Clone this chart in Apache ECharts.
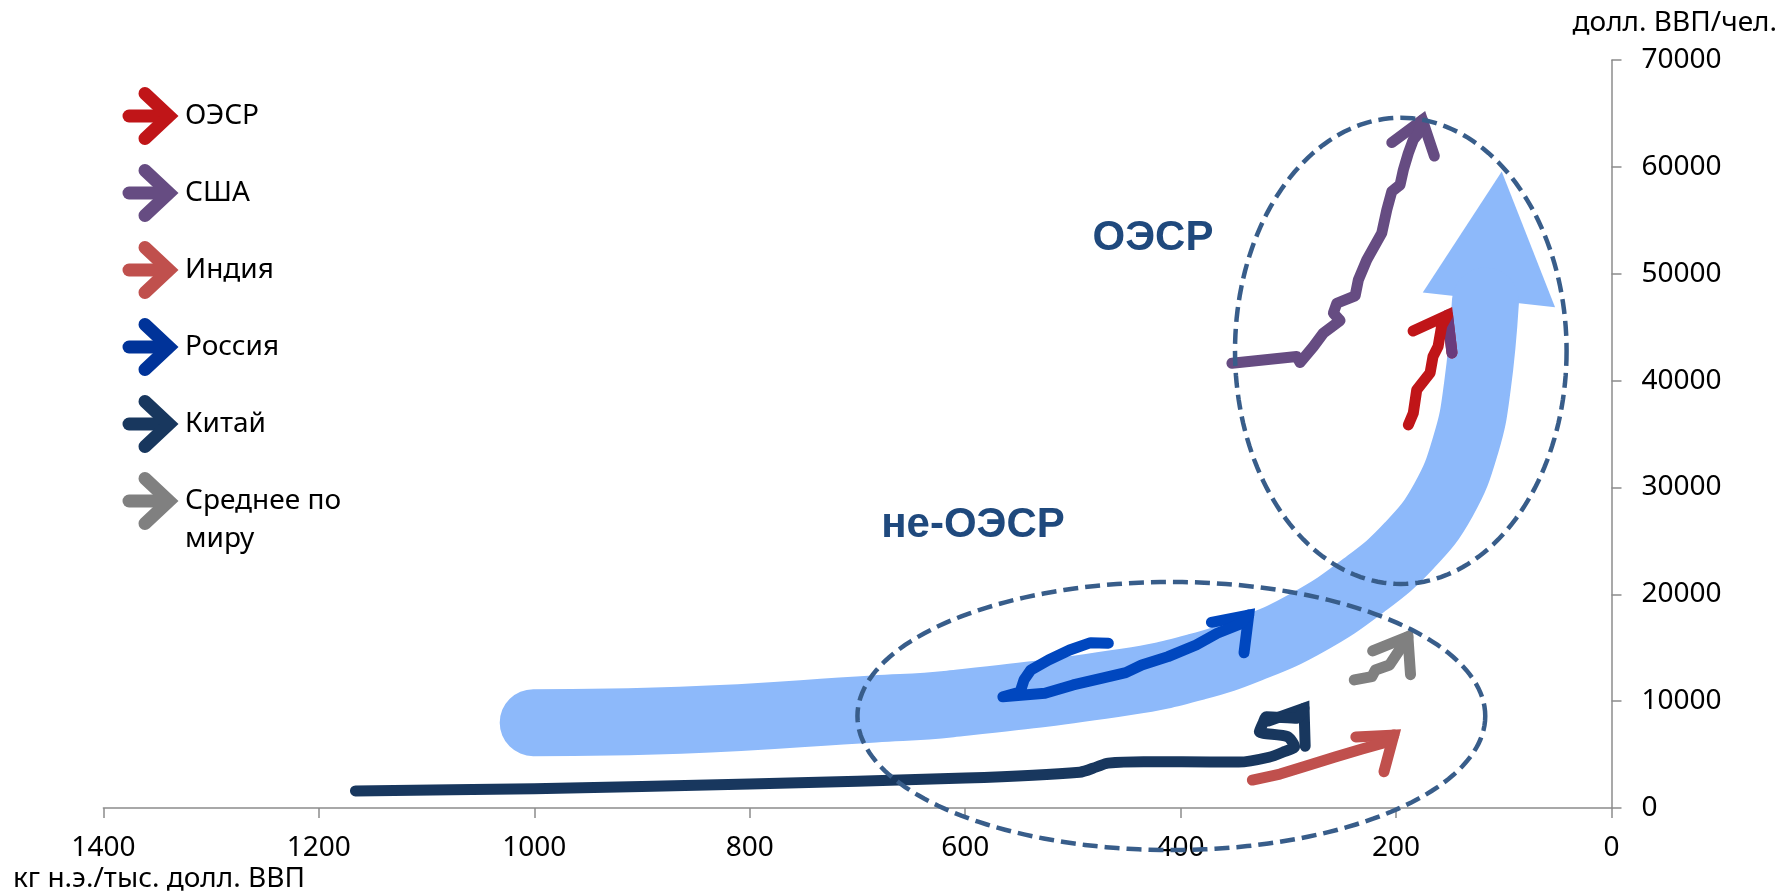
<!DOCTYPE html>
<html><head><meta charset="utf-8">
<script src="https://cdn.jsdelivr.net/npm/echarts@6/dist/echarts.min.js"></script>
<style>html,body{margin:0;padding:0;background:#fff}#c{width:1782px;height:892px}</style>
</head><body><div id="c"></div>
<script>
// ---- data (x: kg oil eq. per 1000 $ GDP, y: $ GDP per capita) ----
const seriesNames = ['ОЭСР', 'США', 'Индия', 'Россия', 'Китай', 'Среднее по миру'];
const legendLabels = ['ОЭСР', 'США', 'Индия', 'Россия', 'Китай', 'Среднее по\nмиру'];
const xAxisTitle = 'кг н.э./тыс. долл. ВВП';
const yAxisTitle = 'долл. ВВП/чел.';
const groupLabels = ['ОЭСР', 'не-ОЭСР'];

const oecd = [[188.6,35860],[184,36960],[180.8,39140],[168.4,40730],[165.7,42260],[161,43190],[157.6,45160],[152.2,46130]];
const usa = [[352.4,41640],[292.2,42260],[289.1,41700],[276.8,43190],[267.5,44450],[252,45630],[258.2,46320],[255,47250],[238,47940],[235,49440],[227.2,51310],[213.3,53810],[208.6,55990],[204,57700],[196.3,58330],[193.2,59740],[188.6,61300],[184,62550],[179.8,63060],[175.6,64400]];
const india = [[333.4,2620],[307.7,3180],[283.5,3930],[256.6,4780],[231.6,5520],[210.8,6120],[202.1,6830]];
const russia = [[467.1,15420],[483.5,15480],[503,14790],[522.6,13860],[539,12920],[545.4,11985],[549,10860],[565,10420],[525.9,10740],[499.8,11520],[473.7,12140],[450.9,12670],[436.1,13390],[411.7,14170],[385.6,15260],[366,16360],[344.4,17240],[336.8,18060]];
const china = [[1166,1600],[1000,1800],[800,2250],[600,2800],[493.7,3350],[477.9,3850],[467.3,4200],[434.5,4340],[398.8,4330],[346,4300],[318,4750],[304,5270],[294.2,5740],[300.8,6680],[326.9,7140],[323.6,7930],[320.4,8550],[291.7,8410],[285.4,9340]];
const world = [[238.8,11985],[222.5,12290],[219.2,12920],[206.1,13390],[194.9,15080],[189,16030]];

// big trend arrow (non-OECD -> OECD)
const trendBand = [[1001,7990],[864.5,8210],[684.5,9270],[613.9,9740],[450.6,11800],[385.6,13200],[335.3,14890],[282.6,17340],[229.9,20850],[187.7,24580],[156,28840],[134.9,34160],[124.5,39470],[117,47450]];
const trendHead = [[175.2,48250],[101.9,59580],[52.4,46880]];

// group ellipses: [centerX, centerY, radiusX, radiusY] in data units
const ellipseOECD = [195.6, 42790, 153.9, 21820];
const ellipseNonOECD = [408.6, 8610, 291.4, 12550];

const xMin = 0, xMax = 1400, xStep = 200;
const yMin = 0, yMax = 70000, yStep = 10000;

// ---- styles ----
const colors = ['#C01518', '#664C82', '#C0504D', '#0047BF', '#18375E', '#808080'];
const legendColors = ['#C01518', '#664C82', '#C0504D', '#003399', '#18375E', '#808080'];
const seriesData = [oecd, usa, india, russia, china, world];
const rightWingColors = ['#6A3B7C', null, null, null, null, null];
const smoothing = [0, 0, 0, 0, 0.25, 0];
const LW = 11;
const FONT = '"Noto Sans", "Open Sans", sans-serif';

const chart = echarts.init(document.getElementById('c'), null, {renderer: 'canvas'});

function arrowHead(data, color, rightColor, z) {
  const n = data.length;
  const a = data[n - 2], b = data[n - 1];
  return {
    type: 'custom', coordinateSystem: 'cartesian2d', clip: false, silent: true, z: z,
    data: [[a[0], a[1], b[0], b[1]]],
    renderItem(params, api) {
      const p0 = api.coord([api.value(0), api.value(1)]);
      const p1 = api.coord([api.value(2), api.value(3)]);
      let dx = p1[0] - p0[0], dy = p1[1] - p0[1];
      const L = Math.hypot(dx, dy); dx /= L; dy /= L;
      const bx = -dx, by = -dy, ang = 36 * Math.PI / 180, len = 38;
      const c = Math.cos(ang), s = Math.sin(ang);
      const w1 = [p1[0] + len * (bx * c - by * s), p1[1] + len * (bx * s + by * c)];
      const w2 = [p1[0] + len * (bx * c + by * s), p1[1] + len * (-bx * s + by * c)];
      const children = [{
        type: 'polyline', shape: {points: [w1, p1, w2]},
        style: {stroke: color, lineWidth: LW, fill: null, lineCap: 'round', lineJoin: 'miter', miterLimit: 10}
      }];
      if (rightColor) {
        children.push({
          type: 'polyline', shape: {points: [p1, w2]},
          style: {stroke: rightColor, lineWidth: LW, fill: null, lineCap: 'round', lineJoin: 'miter'}
        });
      }
      return {type: 'group', children};
    }
  };
}

function ellipseSeries(e) {
  return {
    type: 'custom', coordinateSystem: 'cartesian2d', clip: false, silent: true, z: 10,
    data: [e],
    renderItem(params, api) {
      const c = api.coord([api.value(0), api.value(1)]);
      const sz = api.size([api.value(2), api.value(3)]);
      const pts = [];
      const N = 180;
      for (let i = 0; i < N; i++) {
        const t = i / N * Math.PI * 2;
        pts.push([c[0] + sz[0] * Math.cos(t), c[1] + sz[1] * Math.sin(t)]);
      }
      return {type: 'polygon', shape: {points: pts},
        style: {fill: null, stroke: '#385D8A', lineWidth: 4.5, lineDash: [15, 7]}};
    }
  };
}

const series = [];
series.push({
  type: 'line', data: trendBand, smooth: 0.45, symbol: 'none', silent: true, z: 1,
  lineStyle: {color: '#8DB9FA', width: 67, cap: 'round', join: 'round'}
});
series.push({
  type: 'custom', coordinateSystem: 'cartesian2d', clip: false, silent: true, z: 1,
  data: [trendHead.flat()],
  renderItem(params, api) {
    const pts = [0, 1, 2].map(i => api.coord([api.value(2 * i), api.value(2 * i + 1)]));
    return {type: 'polygon', shape: {points: pts}, style: {fill: '#8DB9FA'}};
  }
});
// draw order: China, India, World, Russia, USA, OECD
[4, 2, 5, 3, 1, 0].forEach(i => {
  series.push({
    name: seriesNames[i], type: 'line', data: seriesData[i], symbol: 'none', silent: true, z: 3,
    smooth: smoothing[i],
    lineStyle: {color: colors[i], width: LW, cap: 'round', join: 'round'}
  });
  series.push(arrowHead(seriesData[i], colors[i], rightWingColors[i], 3));
});
series.push(ellipseSeries(ellipseOECD));
series.push(ellipseSeries(ellipseNonOECD));

// legend drawn as arrow icons + text
const graphics = [];
const legendY0 = 116, legendDY = 77;
legendLabels.forEach((lab, i) => {
  const cy = legendY0 + i * legendDY;
  graphics.push({type: 'polyline', shape: {points: [[129, cy], [168, cy]]},
    style: {stroke: legendColors[i], lineWidth: 13, lineCap: 'round', fill: null}});
  graphics.push({type: 'polyline', shape: {points: [[145, cy - 22.5], [169, cy], [145, cy + 22.5]]},
    style: {stroke: legendColors[i], lineWidth: 13, lineCap: 'round', lineJoin: 'miter', fill: null}});
  graphics.push({type: 'text', x: 185, y: cy - 19,
    style: {text: lab, fill: '#000', font: '28px ' + FONT, lineHeight: 38, verticalAlign: 'top'}});
});
graphics.push({type: 'text', x: 1777, y: 23, style: {text: yAxisTitle, fill: '#000', font: '28px ' + FONT, align: 'right', verticalAlign: 'middle'}});
graphics.push({type: 'text', x: 13, y: 879, style: {text: xAxisTitle, fill: '#000', font: '28px ' + FONT, align: 'left', verticalAlign: 'middle'}});
graphics.push({type: 'text', x: 1153, y: 238.5, style: {text: groupLabels[0], fill: '#1F497D', font: 'bold 42px "Liberation Sans", Arial, sans-serif', align: 'center', verticalAlign: 'middle'}});
graphics.push({type: 'text', x: 973, y: 525.5, style: {text: groupLabels[1], fill: '#1F497D', font: 'bold 42px "Liberation Sans", Arial, sans-serif', align: 'center', verticalAlign: 'middle'}});

const plainNum = v => String(v);

chart.setOption({
  animation: false,
  backgroundColor: '#fff',
  grid: {left: 103.4, right: 170.5, top: 60.2, bottom: 84, containLabel: false},
  xAxis: {
    type: 'value', inverse: true, min: xMin, max: xMax, interval: xStep,
    axisLine: {show: true, lineStyle: {color: '#8C8C8C', width: 1.5}},
    axisTick: {show: true, length: 10, lineStyle: {color: '#8C8C8C', width: 1.5}},
    axisLabel: {color: '#000', fontSize: 28, fontFamily: FONT, margin: 26, formatter: plainNum},
    splitLine: {show: false}
  },
  yAxis: {
    type: 'value', position: 'right', min: yMin, max: yMax, interval: yStep,
    axisLine: {show: true, lineStyle: {color: '#8C8C8C', width: 1.5}},
    axisTick: {show: true, length: 10, lineStyle: {color: '#8C8C8C', width: 1.5}},
    axisLabel: {color: '#000', fontSize: 28, fontFamily: FONT, margin: 30, align: 'left', formatter: plainNum},
    splitLine: {show: false}
  },
  series: series,
  graphic: graphics
});
</script>
</body></html>
